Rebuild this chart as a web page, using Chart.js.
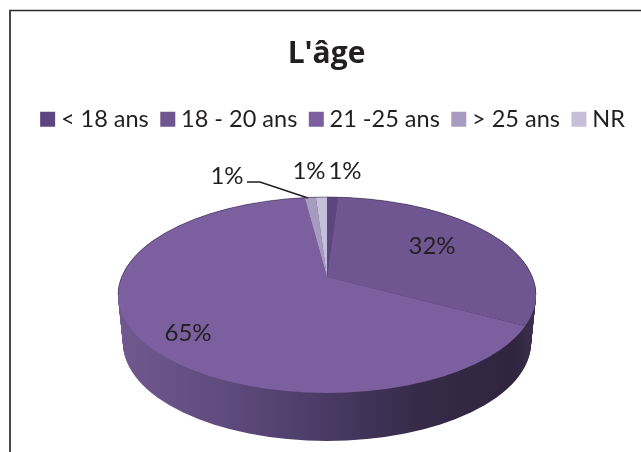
<!DOCTYPE html>
<html><head><meta charset="utf-8">
<style>html,body{margin:0;padding:0;background:#fff}canvas{display:block}</style>
<script src="https://cdn.jsdelivr.net/npm/chart.js@4"></script>
</head><body>
<div style="width:641px;height:452px"><canvas id="c" width="641" height="452"></canvas></div>
<script>
const categories = ['< 18 ans', '18 - 20 ans', '21 -25 ans', '> 25 ans', 'NR'];
const percentages = [1, 32, 65, 1, 1];
const sliceColors = ['#5b4680', '#6f5690', '#7c5f9e', '#a89bc0', '#c6bfd9'];
const chartTitle = "L'âge";
const labelSpots = [[345,171],[432,246],[188,333],[227,176],[309,171]];

const INK = '#231f20';
const apex = {x:327, y:277}, squash = 0.45, zoomK = 2.5;
const face = {cx:327, cy:295, rx:209, ry:98};
const base = {cy:343, rx:204, ry:98};
const legendShift = 15, titleShift = 6;

const pie3d = {
  id:'pie3d',
  afterLayout(chart){
    chart.legend.left += legendShift; chart.legend.right += legendShift;
    chart.titleBlock.left += titleShift; chart.titleBlock.right += titleShift;
  },
  beforeDraw(chart){
    const ctx = chart.ctx;
    ctx.save();
    ctx.strokeStyle = '#2b2b2b'; ctx.lineWidth = 1.7;
    ctx.beginPath(); ctx.moveTo(10,452); ctx.lineTo(10,10.5); ctx.lineTo(641,10.5); ctx.stroke();
    ctx.restore();
  },
  beforeDatasetsDraw(chart){
    const ctx = chart.ctx, arc0 = chart.getDatasetMeta(0).data[0];
    const g = ctx.createLinearGradient(face.cx-face.rx,0,face.cx+face.rx,0);
    g.addColorStop(0,'#70598f'); g.addColorStop(0.25,'#5f4b7e'); g.addColorStop(0.5,'#4a3a64');
    g.addColorStop(0.72,'#362a48'); g.addColorStop(0.95,'#30253f'); g.addColorStop(1,'#3d3050');
    ctx.save(); ctx.fillStyle = g;
    for(let i=48;i>=0;i--){
      const t=i/48;
      ctx.beginPath();
      ctx.ellipse(face.cx, face.cy+(base.cy-face.cy)*t, face.rx+(base.rx-face.rx)*t, face.ry, 0, 0, Math.PI*2);
      ctx.fill();
    }
    ctx.restore();
    ctx.save();
    ctx.beginPath(); ctx.ellipse(face.cx,face.cy,face.rx,face.ry,0,0,Math.PI*2); ctx.clip();
    ctx.translate(apex.x,apex.y); ctx.scale(zoomK,zoomK*squash); ctx.translate(-arc0.x,-arc0.y);
  },
  afterDatasetsDraw(chart){
    const ctx = chart.ctx;
    ctx.restore();
    ctx.save();
    ctx.strokeStyle='rgba(50,40,70,.5)'; ctx.lineWidth=1;
    ctx.beginPath(); ctx.ellipse(face.cx,face.cy,face.rx,face.ry,0,Math.PI,Math.PI*2); ctx.stroke();
    ctx.restore();
    ctx.save();
    ctx.fillStyle=INK; ctx.font='24px Lato'; ctx.textAlign='center'; ctx.textBaseline='middle';
    percentages.forEach((v,i)=>ctx.fillText(v+'%',labelSpots[i][0],labelSpots[i][1]));
    ctx.strokeStyle=INK; ctx.lineWidth=1.6;
    ctx.beginPath(); ctx.moveTo(247,182); ctx.lineTo(260,182); ctx.lineTo(308,198); ctx.stroke();
    ctx.restore();
  }
};

new Chart(document.getElementById('c'),{
  type:'pie',
  data:{labels:categories,datasets:[{data:percentages,backgroundColor:sliceColors,borderWidth:0}]},
  plugins:[pie3d],
  options:{
    responsive:false,animation:false,
    layout:{padding:{top:36,bottom:0,left:0,right:0}},
    plugins:{
      tooltip:{enabled:false},
      title:{display:true,text:chartTitle,color:INK,font:{family:'Open Sans',size:30,weight:'bold'},padding:{top:0,bottom:18}},
      legend:{display:true,position:'top',align:'center',
        labels:{usePointStyle:true,pointStyle:'rect',boxWidth:3,boxHeight:15,padding:17.5,color:INK,font:{family:'Lato',size:23.5}}}
    }
  }
});
</script></body></html>
